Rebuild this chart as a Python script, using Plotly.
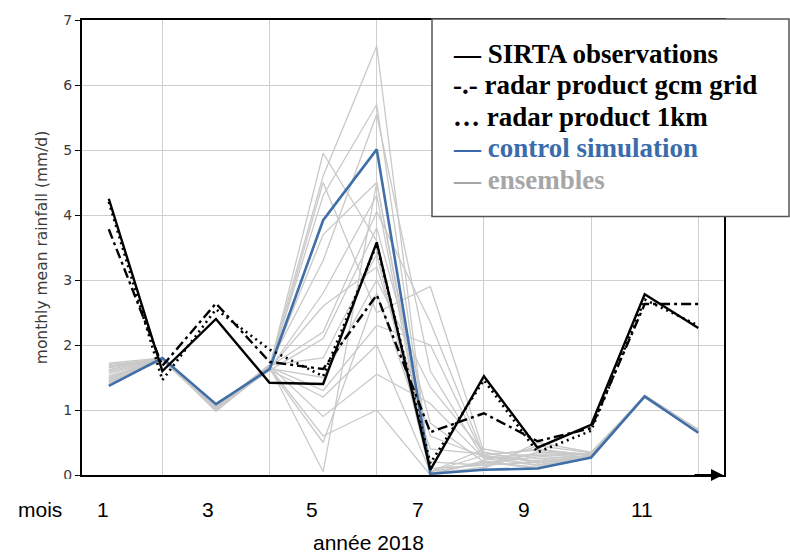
import plotly.graph_objects as go

months = list(range(1, 13))

sirta_obs = [4.25, 1.60, 2.40, 1.42, 1.40, 3.58, 0.08, 1.52, 0.42, 0.77, 2.78, 2.26]
radar_gcm = [3.78, 1.68, 2.64, 1.74, 1.63, 2.77, 0.66, 0.95, 0.52, 0.72, 2.63, 2.63]
radar_1km = [4.20, 1.46, 2.55, 1.93, 1.52, 3.55, 0.18, 1.46, 0.35, 0.68, 2.70, 2.30]
control_sim = [1.37, 1.80, 1.09, 1.63, 3.92, 5.01, 0.02, 0.08, 0.10, 0.27, 1.21, 0.65]

ensembles = [
    [1.72, 1.80, 1.05, 1.65, 4.95, 3.60, 0.05, 0.30, 0.15, 0.30, 1.22, 0.68],
    [1.70, 1.78, 1.00, 1.68, 4.60, 6.60, 0.02, 0.20, 0.10, 0.32, 1.20, 0.66],
    [1.68, 1.79, 1.02, 1.62, 4.50, 2.50, 2.90, 0.35, 0.20, 0.30, 1.21, 0.70],
    [1.65, 1.77, 1.08, 1.66, 4.30, 5.70, 0.10, 0.15, 0.45, 0.34, 1.19, 0.67],
    [1.62, 1.80, 0.98, 1.64, 3.70, 4.50, 0.05, 0.40, 0.25, 0.30, 1.22, 0.69],
    [1.60, 1.78, 1.04, 1.70, 3.30, 5.55, 1.60, 0.25, 0.30, 0.33, 1.20, 0.65],
    [1.58, 1.76, 1.06, 1.63, 2.80, 4.30, 0.00, 0.10, 0.50, 0.35, 1.21, 0.68],
    [1.55, 1.79, 1.01, 1.67, 2.20, 4.05, 2.35, 0.30, 0.40, 0.30, 1.23, 0.70],
    [1.52, 1.77, 1.03, 1.61, 2.10, 3.80, 0.80, 0.20, 0.12, 0.31, 1.20, 0.66],
    [1.50, 1.80, 0.99, 1.69, 1.80, 3.40, 0.02, 0.12, 0.35, 0.32, 1.22, 0.69],
    [1.48, 1.78, 1.07, 1.64, 1.50, 3.00, 1.35, 0.35, 0.18, 0.30, 1.21, 0.67],
    [1.45, 1.76, 1.02, 1.66, 1.30, 2.30, 2.00, 0.28, 0.22, 0.34, 1.19, 0.68],
    [1.43, 1.79, 1.05, 1.62, 1.20, 2.00, 0.05, 0.18, 0.28, 0.33, 1.20, 0.66],
    [1.40, 1.77, 1.00, 1.68, 0.90, 1.55, 1.10, 0.25, 0.15, 0.30, 1.22, 0.70],
    [1.42, 1.78, 1.03, 1.65, 0.60, 1.00, 0.00, 0.22, 0.10, 0.31, 1.21, 0.67],
    [1.46, 1.80, 1.06, 1.63, 0.50, 2.80, 0.40, 0.32, 0.38, 0.32, 1.20, 0.68],
    [1.50, 1.78, 1.02, 1.67, 0.05, 4.50, 0.20, 0.15, 0.20, 0.30, 1.22, 0.69],
    [1.66, 1.79, 1.04, 1.64, 2.60, 3.20, 0.60, 0.28, 0.32, 0.33, 1.21, 0.66],
]

yticks = [0, 1, 2, 3, 4, 5, 6, 7]
xgrid = [2, 4, 6, 8, 10, 12]
month_labels = ["1", "3", "5", "7", "9", "11"]
legend_items = [
    ("— SIRTA observations", "#000000"),
    ("-.- radar product gcm grid", "#000000"),
    ("… radar product 1km", "#000000"),
    ("— control simulation", "#3a6cab"),
    ("— ensembles", "#a6a6a6"),
]

W, H = 790, 553
L, R, T, B = 82, 724, 14, 475


def px(x):
    return (x - L) / (R - L)


def py(y):
    return (B - y) / (B - T)


fig = go.Figure()
for ens in ensembles:
    fig.add_trace(go.Scatter(x=months, y=ens, mode="lines",
                             line=dict(color="#c9c9c9", width=1.3),
                             showlegend=False, hoverinfo="skip"))
fig.add_trace(go.Scatter(x=months, y=control_sim, mode="lines",
                         line=dict(color="#3f6fa6", width=2.6), showlegend=False))
fig.add_trace(go.Scatter(x=months, y=radar_1km, mode="lines",
                         line=dict(color="#000000", width=2.6, dash="2px,4px"), showlegend=False))
fig.add_trace(go.Scatter(x=months, y=radar_gcm, mode="lines",
                         line=dict(color="#000000", width=2.4, dash="10px,4px,3px,4px"), showlegend=False))
fig.add_trace(go.Scatter(x=months, y=sirta_obs, mode="lines",
                         line=dict(color="#000000", width=2.4), showlegend=False))

shapes = []
annotations = []

# white patch hiding the lower half of the "0" tick label
shapes.append(dict(type="rect", xref="paper", yref="paper",
                   x0=px(40), x1=px(79), y0=py(494), y1=py(479),
                   fillcolor="white", line=dict(width=0), layer="above"))

# legend box
shapes.append(dict(type="rect", xref="paper", yref="paper",
                   x0=px(432), x1=px(789), y0=py(213), y1=py(13),
                   fillcolor="white", line=dict(color="#555555", width=1.5), layer="above"))
for i, (txt, col) in enumerate(legend_items):
    annotations.append(dict(xref="paper", yref="paper", x=px(451), y=py(48 + 32 * i),
                            text="<b>" + txt + "</b>", showarrow=False,
                            xanchor="left", yanchor="middle",
                            font=dict(family="Liberation Serif", size=27, color=col)))

# arrow on x axis
annotations.append(dict(xref="paper", yref="paper", x=px(723), y=0, ax=-30, ay=0,
                        showarrow=True, arrowhead=2, arrowsize=1.2, arrowwidth=2,
                        arrowcolor="black", text=""))

# month labels
annotations.append(dict(xref="paper", yref="paper", x=px(40), y=py(510), text="mois",
                        showarrow=False, xanchor="center", yanchor="middle",
                        font=dict(family="Liberation Sans", size=21, color="black")))
for lab, xc in zip(month_labels, [103, 208, 312, 418, 524, 642]):
    annotations.append(dict(xref="paper", yref="paper", x=px(xc), y=py(510), text=lab,
                            showarrow=False, xanchor="center", yanchor="middle",
                            font=dict(family="Liberation Sans", size=21, color="black")))
annotations.append(dict(xref="paper", yref="paper", x=px(368), y=py(543), text="année 2018",
                        showarrow=False, xanchor="center", yanchor="middle",
                        font=dict(family="Liberation Sans", size=21, color="black")))

fig.update_layout(
    width=W, height=H,
    margin=dict(l=L, r=W - R, t=T, b=H - B),
    paper_bgcolor="white", plot_bgcolor="white",
    shapes=shapes, annotations=annotations,
    xaxis=dict(range=[0.5, 12.48], tickvals=xgrid, showticklabels=False, ticks="",
               showgrid=True, gridcolor="#cfcfcf", gridwidth=1, zeroline=False,
               showline=True, linecolor="black", linewidth=2, mirror=True),
    yaxis=dict(range=[0, 7], tickvals=yticks, showgrid=True, gridcolor="#cfcfcf",
               gridwidth=1, zeroline=False, ticks="outside", ticklen=5, tickcolor="black",
               showline=True, linecolor="black", linewidth=2, mirror=True,
               tickfont=dict(family="DejaVu Sans", size=14, color="#3a3a3a"),
               title=dict(text="monthly mean rainfall (mm/d)", standoff=12,
                          font=dict(family="DejaVu Sans", size=15.5, color="#3a3a3a"))),
    font=dict(family="DejaVu Sans"),
)

fig.write_html("out.html")
